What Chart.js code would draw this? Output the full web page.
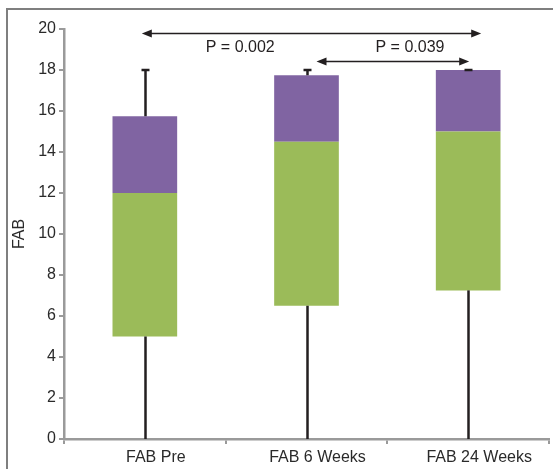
<!DOCTYPE html>
<html>
<head>
<meta charset="utf-8">
<script src="https://cdn.jsdelivr.net/npm/chart.js@4.4.0/dist/chart.umd.min.js"></script>
<style>
  html, body { margin: 0; padding: 0; background: #ffffff; overflow: hidden; }
  #wrap { position: relative; width: 553px; height: 469px; }
</style>
</head>
<body>
<div id="wrap"><canvas id="boxChart" width="553" height="469"></canvas></div>
<script>
// Box plot values
const categories = ['FAB Pre', 'FAB 6 Weeks', 'FAB 24 Weeks'];
const minValues = [0, 0, 0];
const q1Values = [5, 6.5, 7.25];
const medianValues = [12, 14.5, 15];
const q3Values = [15.75, 17.75, 18];
const maxValues = [18, 18, 18];

// Significance brackets
const compareLabels = ['P = 0.002', 'P = 0.039'];
const compareFrom = [0, 1];
const compareTo = [2, 2];
const compareLevel = [19.8, 18.45];

const yTicks = [0, 2, 4, 6, 8, 10, 12, 14, 16, 18, 20];

const GREEN = '#9bbb59';
const PURPLE = '#8064a2';
const AXIS = '#9a9a9a';
const INK = '#231f20';
const FONT = '"Liberation Sans", Arial, sans-serif';

// frame around the figure
const framePlugin = {
    id: 'frame',
    beforeDraw(chart) {
        const ctx = chart.ctx;
        ctx.save();
        ctx.strokeStyle = '#7f7f7f';
        ctx.lineWidth = 2;
        ctx.beginPath();
        ctx.moveTo(7, 470);
        ctx.lineTo(7, 9);
        ctx.lineTo(560, 9);
        ctx.stroke();
        ctx.restore();
    }
};

function arrowHead(ctx, x, y, dir) {
    ctx.beginPath();
    ctx.moveTo(x, y);
    ctx.lineTo(x - dir * 10, y - 4);
    ctx.lineTo(x - dir * 10, y + 4);
    ctx.closePath();
    ctx.fill();
}

// whiskers + comparison arrows, placed through the chart scales
const whiskerPlugin = {
    id: 'whiskers',
    afterDatasetsDraw(chart) {
        const ctx = chart.ctx;
        const x = chart.scales.x;
        const y = chart.scales.y;
        ctx.save();
        ctx.strokeStyle = INK;
        ctx.fillStyle = INK;
        ctx.lineWidth = 2.5;
        categories.forEach((c, i) => {
            const cx = Math.round(x.getPixelForValue(i)) + 0.5;
            ctx.beginPath();
            ctx.moveTo(cx, y.getPixelForValue(minValues[i]));
            ctx.lineTo(cx, y.getPixelForValue(q1Values[i]));
            ctx.moveTo(cx, y.getPixelForValue(q3Values[i]));
            ctx.lineTo(cx, y.getPixelForValue(maxValues[i]));
            ctx.stroke();
            // cap
            const ty = y.getPixelForValue(maxValues[i]);
            ctx.beginPath();
            ctx.moveTo(cx - 4, ty);
            ctx.lineTo(cx + 4, ty);
            ctx.stroke();
        });

        // comparisons
        const startShift = [-3, 10];
        const endShift = [13, 1];
        const textAt = [0.59, 1.64];
        ctx.lineWidth = 1.5;
        ctx.font = '16px ' + FONT;
        ctx.textAlign = 'center';
        ctx.textBaseline = 'middle';
        compareLabels.forEach((label, k) => {
            const x0 = x.getPixelForValue(compareFrom[k]) + startShift[k];
            const x1 = x.getPixelForValue(compareTo[k]) + endShift[k];
            const ly = Math.round(y.getPixelForValue(compareLevel[k])) + 0.5;
            ctx.beginPath();
            ctx.moveTo(x0 + 4, ly);
            ctx.lineTo(x1 - 4, ly);
            ctx.stroke();
            arrowHead(ctx, x0, ly, -1);
            arrowHead(ctx, x1, ly, 1);
            ctx.fillStyle = '#231f20';
            ctx.fillText(label, x.getPixelForValue(textAt[k]), y.getPixelForValue(19.1));
        });
        ctx.restore();
    }
};

const ctx = document.getElementById('boxChart').getContext('2d');
new Chart(ctx, {
    type: 'bar',
    data: {
        labels: categories,
        datasets: [{
            label: 'Q1 to median',
            data: categories.map((c, i) => [q1Values[i], medianValues[i]]),
            backgroundColor: GREEN,
            borderWidth: 0,
            grouped: false,
            categoryPercentage: 1,
            barPercentage: 0.4
        }, {
            label: 'Median to Q3',
            data: categories.map((c, i) => [medianValues[i], q3Values[i]]),
            backgroundColor: PURPLE,
            borderWidth: 0,
            grouped: false,
            categoryPercentage: 1,
            barPercentage: 0.4
        }]
    },
    options: {
        responsive: false,
        animation: false,
        events: [],
        layout: { padding: { left: 0, right: 4, top: 29, bottom: 0 } },
        plugins: {
            legend: { display: false },
            tooltip: { enabled: false }
        },
        scales: {
            x: {
                offset: true,
                grid: {
                    offset: true,
                    drawOnChartArea: false,
                    drawTicks: true,
                    tickLength: 5,
                    color: AXIS,
                    lineWidth: 2
                },
                border: { color: AXIS, width: 2.5 },
                ticks: {
                    color: '#2a2a2a',
                    font: { family: FONT, size: 16 },
                    padding: 4,
                    labelOffset: 11,
                    maxRotation: 0
                },
                afterFit(scale) { scale.height = 30; }
            },
            y: {
                min: 0,
                max: 20,
                afterBuildTicks(scale) { scale.ticks = yTicks.map(v => ({ value: v })); },
                grid: {
                    drawOnChartArea: false,
                    tickLength: 5,
                    color: AXIS,
                    lineWidth: 2
                },
                border: { color: AXIS, width: 2.5 },
                ticks: {
                    color: '#2a2a2a',
                    font: { family: FONT, size: 16 },
                    padding: 3
                },
                title: {
                    display: true,
                    text: 'FAB',
                    color: '#2a2a2a',
                    font: { family: FONT, size: 16 },
                    padding: { top: 10, bottom: 0 }
                },
                afterFit(scale) { scale.width = 64; }
            }
        }
    },
    plugins: [framePlugin, whiskerPlugin]
});
</script>
</body>
</html>
